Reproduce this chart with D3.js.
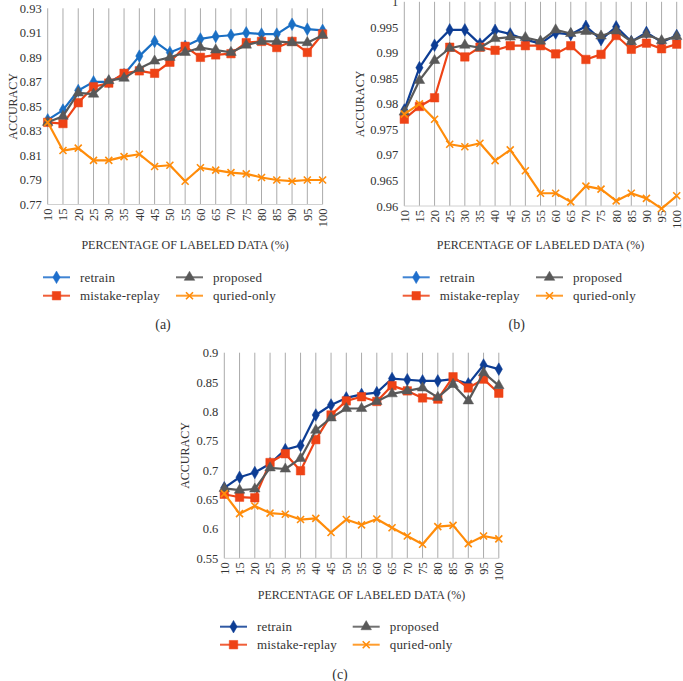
<!DOCTYPE html>
<html><head><meta charset="utf-8">
<script src="https://cdn.jsdelivr.net/npm/d3@7"></script>
<style>
html,body{margin:0;padding:0;background:#fff;}
svg text{font-family:"Liberation Serif","Times New Roman",serif !important;fill:#333;}
</style></head>
<body>
<svg id="chart" width="683" height="681" font-family="Liberation Serif, Times New Roman, serif"></svg>
<script>
// ---------- data ----------
const xCats = [10,15,20,25,30,35,40,45,50,55,60,65,70,75,80,85,90,95,100];
const seriesNames = ["retrain","mistake-replay","proposed","quried-only"];

// panel (a)
const aRetrain  = [0.839,0.847,0.863,0.870,0.870,0.876,0.891,0.903,0.894,0.899,0.905,0.907,0.908,0.910,0.909,0.909,0.917,0.913,0.912];
const aMistake  = [0.837,0.836,0.853,0.866,0.869,0.877,0.879,0.877,0.886,0.899,0.890,0.892,0.893,0.902,0.903,0.898,0.903,0.894,0.909];
const aProposed = [0.837,0.842,0.861,0.860,0.871,0.873,0.881,0.887,0.890,0.894,0.898,0.896,0.894,0.900,0.903,0.903,0.902,0.902,0.908];
const aQueried  = [0.837,0.814,0.816,0.806,0.806,0.809,0.811,0.801,0.802,0.789,0.800,0.798,0.796,0.795,0.792,0.790,0.789,0.790,0.790];
const aTicks = [0.77,0.79,0.81,0.83,0.85,0.87,0.89,0.91,0.93];

// panel (b)
const bRetrain  = [0.9788,0.9871,0.9915,0.9945,0.9945,0.9917,0.9944,0.9937,0.9926,0.9918,0.9939,0.9936,0.9952,0.9926,0.9951,0.9922,0.9940,0.9921,0.9934];
const bMistake  = [0.9770,0.9795,0.9812,0.9911,0.9892,0.9911,0.9905,0.9914,0.9914,0.9914,0.9898,0.9914,0.9887,0.9897,0.9934,0.9907,0.9919,0.9908,0.9917];
const bProposed = [0.9784,0.9846,0.9885,0.9909,0.9915,0.9910,0.9928,0.9931,0.9930,0.9923,0.9945,0.9938,0.9942,0.9933,0.9943,0.9922,0.9936,0.9924,0.9932];
const bQueried  = [0.9780,0.9800,0.9770,0.9721,0.9716,0.9723,0.9689,0.9710,0.9669,0.9625,0.9625,0.9608,0.9639,0.9633,0.9610,0.9625,0.9615,0.9595,0.9620];
const bTicks = [0.96,0.965,0.97,0.975,0.98,0.985,0.99,0.995,1];

// panel (c)
const cRetrain  = [0.670,0.688,0.696,0.711,0.735,0.742,0.794,0.811,0.823,0.829,0.832,0.856,0.854,0.852,0.852,0.855,0.847,0.879,0.872];
const cMistake  = [0.659,0.654,0.653,0.713,0.728,0.699,0.752,0.794,0.818,0.825,0.817,0.844,0.835,0.823,0.821,0.859,0.840,0.855,0.831];
const cProposed = [0.669,0.666,0.668,0.704,0.702,0.720,0.768,0.789,0.805,0.805,0.817,0.830,0.835,0.840,0.824,0.846,0.818,0.866,0.844];
const cQueried  = [0.660,0.626,0.639,0.627,0.625,0.616,0.618,0.594,0.616,0.607,0.617,0.602,0.588,0.574,0.604,0.606,0.575,0.588,0.583];
const cTicks = [0.55,0.6,0.65,0.7,0.75,0.8,0.85,0.9];

const captions = ["(a)","(b)","(c)"];
const xTitle = "PERCENTAGE OF LABELED DATA (%)";
const yTitle = "ACCURACY";

// ---------- styles ----------
const FONT = "'Liberation Serif','Times New Roman',serif";
const colorsA = ["#1a6fc4","#ee4316","#595959","#ff8c0a"];
const colorsBC = ["#0d3d94","#ee4316","#595959","#ff8c0a"];
const legendColors = ["#1f6fcc","#ee4316","#595959","#ff8c0a"];
const markers = ["diamond","square","triangle","cross"];

const svg = d3.select("#chart");

function markerPath(type){
  if(type==="diamond") return d3.symbol(d3.symbolDiamond, 46)();
  if(type==="square") return d3.symbol(d3.symbolSquare, 72)();
  if(type==="triangle") return d3.symbol(d3.symbolTriangle, 48)();
  return "M-3.5,-3.5L3.5,3.5M-3.5,3.5L3.5,-3.5";
}

function drawMarker(g, type, color, x, y){
  const p = g.append("path").attr("d", markerPath(type))
    .attr("transform", `translate(${x},${y})`);
  if(type==="cross") p.attr("fill","none").attr("stroke",color).attr("stroke-width",1.6);
  else p.attr("fill",color).attr("stroke",color).attr("stroke-width",0.5);
}

function txt(sel, size){
  return sel.style("font-family", FONT).style("font-size", size).attr("fill","#333");
}

function panel(cfg){
  const g = svg.append("g");
  const x = d3.scalePoint().domain(xCats).range([cfg.left, cfg.right]);
  const y = d3.scaleLinear().domain([cfg.ticks[0], cfg.ticks[cfg.ticks.length-1]]).range([cfg.bottom, cfg.top]);

  // vertical gridlines
  g.append("g").selectAll("line").data(xCats).join("line")
    .attr("x1", d=>x(d)).attr("x2", d=>x(d))
    .attr("y1", cfg.top).attr("y2", cfg.bottom)
    .attr("stroke", "#ababab").attr("stroke-width", 1);
  g.append("line").attr("x1", cfg.left).attr("x2", cfg.right)
    .attr("y1", cfg.bottom).attr("y2", cfg.bottom)
    .attr("stroke", "#d0d0d0").attr("stroke-width", 1);

  // y axis labels
  const yAxis = d3.axisLeft(y).tickValues(cfg.ticks).tickSize(0).tickPadding(6)
    .tickFormat(d=>String(+d.toFixed(3)));
  const ya = g.append("g").attr("transform", `translate(${cfg.left},0)`).call(yAxis);
  ya.attr("font-family", null);
  ya.select(".domain").remove();
  txt(ya.selectAll("text"), "12.5px");

  // x axis labels (rotated)
  txt(g.append("g").selectAll("text").data(xCats).join("text")
    .attr("transform", d=>`translate(${x(d)},${cfg.bottom+4}) rotate(-90)`)
    .attr("text-anchor","end").attr("dy","0.35em").text(d=>d), "12.5px");

  // titles
  txt(g.append("text").attr("transform", `translate(${cfg.yTitleX},${(cfg.top+cfg.bottom)/2}) rotate(-90)`)
    .attr("text-anchor","middle").attr("dy","0.35em").text(yTitle), "12px");
  txt(g.append("text").attr("x", (cfg.left+cfg.right)/2).attr("y", cfg.xTitleY)
    .attr("text-anchor","middle").attr("dy","0.35em").text(xTitle), "12px");

  // series
  const line = d3.line().x((d,i)=>x(xCats[i])).y(d=>y(d));
  cfg.series.forEach((vals, si)=>{
    g.append("path").datum(vals).attr("d", line)
      .attr("fill","none").attr("stroke", cfg.colors[si]).attr("stroke-width", 2.2)
      .attr("stroke-linejoin","round");
    vals.forEach((v,i)=> drawMarker(g, markers[si], cfg.colors[si], x(xCats[i]), y(v)));
  });

  // legend
  const lg = g.append("g");
  const pos = [
    {lx: cfg.legX1, ty: cfg.legY1},
    {lx: cfg.legX1, ty: cfg.legY2},
    {lx: cfg.legX2, ty: cfg.legY1},
    {lx: cfg.legX2, ty: cfg.legY2}
  ];
  seriesNames.forEach((n, si)=>{
    const p = pos[si];
    const col = cfg.legendColors[si];
    lg.append("line").attr("x1", p.lx).attr("x2", p.lx+27).attr("y1", p.ty).attr("y2", p.ty)
      .attr("stroke", col).attr("stroke-width", 2).attr("opacity",0.85);
    drawMarker(lg, markers[si], col, p.lx+13.5, p.ty);
    txt(lg.append("text").attr("x", p.lx+37).attr("y", p.ty).attr("dy","0.35em")
      .style("letter-spacing","0.2px").text(n), "13px");
  });

  txt(g.append("text").attr("x", cfg.capX).attr("y", cfg.capY).attr("text-anchor","middle")
    .attr("dy","0.35em").text(cfg.caption), "14px");
}

panel({left:47.7, right:322.6, top:8.3, bottom:204.5, ticks:aTicks,
  series:[aRetrain,aMistake,aProposed,aQueried], colors:colorsA, legendColors:legendColors,
  yTitleX:13, xTitleY:245, legX1:43, legX2:176, legY1:277.3, legY2:295.7,
  capX:163, capY:324, caption:captions[0]});

panel({left:404.3, right:676.7, top:1.8, bottom:206, ticks:bTicks,
  series:[bRetrain,bMistake,bProposed,bQueried], colors:colorsBC, legendColors:legendColors,
  yTitleX:360, xTitleY:245, legX1:402.7, legX2:536, legY1:277.3, legY2:295.7,
  capX:516.7, capY:324, caption:captions[1]});

panel({left:224.3, right:498.8, top:352.7, bottom:558.3, ticks:cTicks,
  series:[cRetrain,cMistake,cProposed,cQueried], colors:colorsBC, legendColors:["#0d3d94","#ee4316","#595959","#ff8c0a"],
  yTitleX:185, xTitleY:595, legX1:220, legX2:352.7, legY1:626.7, legY2:644.7,
  capX:340, capY:674, caption:captions[2]});
</script>
</body></html>
